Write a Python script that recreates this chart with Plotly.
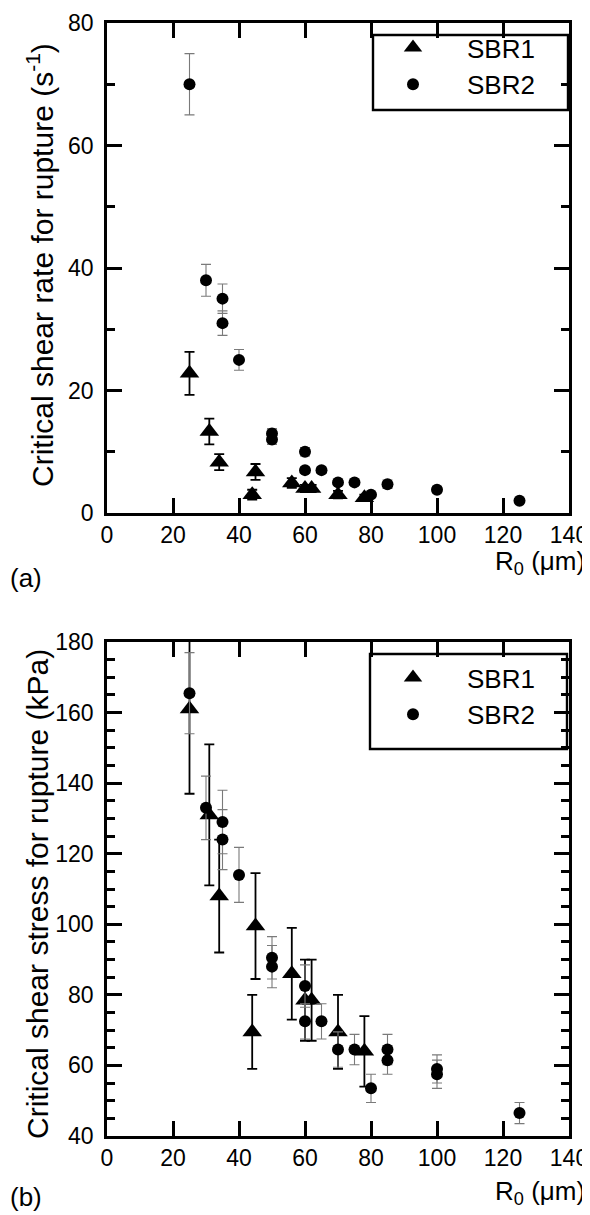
import plotly.graph_objects as go
from plotly.subplots import make_subplots

# ---- data ----
# (a) critical shear rate for rupture (1/s)
r0_sbr1_a = [25, 31, 34, 44, 45, 56, 60, 62, 70, 78]
rate_sbr1 = [22.8, 13.3, 8.3, 3.0, 6.7, 4.9, 4.0, 4.0, 3.0, 2.5]
rate_sbr1_err = [3.5, 2.1, 1.3, 0.8, 1.3, 0.8, 0.6, 0.6, 0.6, 0.5]

r0_sbr2_a = [25, 30, 35, 35, 40, 50, 50, 60, 60, 65, 70, 75, 80, 85, 100, 125]
rate_sbr2 = [70, 38, 35, 31, 25, 13, 12, 10, 7, 7, 5, 5, 3, 4.7, 3.8, 2]
rate_sbr2_err = [5, 2.6, 2.4, 2, 1.7, 0.8, 0.8, 0.7, 0.5, 0.5, 0.4, 0.4, 0.3, 0.7, 0.5, 0.3]

# (b) critical shear stress for rupture (kPa)
r0_sbr1_b = [25, 31, 34, 44, 45, 56, 60, 62, 70, 78]
stress_sbr1 = [161, 131, 108, 69.5, 99.5, 86, 78.5, 78.5, 69.5, 64]
stress_sbr1_err = [24, 20, 16, 10.5, 15, 13, 11.5, 11.5, 10.5, 10]

r0_sbr2_b = [25, 30, 35, 35, 40, 50, 50, 60, 60, 65, 70, 75, 80, 85, 85, 100, 100, 125]
stress_sbr2 = [165.5, 133, 129, 124, 114, 90.5, 88, 82.5, 72.5, 72.5, 64.5, 64.5, 53.5,
               64.5, 61.5, 59, 57.5, 46.5]
stress_sbr2_err = [11.5, 9, 9, 8.5, 7.8, 6, 6, 6, 5, 5, 5, 4.3, 4, 4.3, 4, 4, 4, 3]

x_ticks = [0, 20, 40, 60, 80, 100, 120, 140]

FONT = "Liberation Sans, Arial, Helvetica, sans-serif"
OFF = 8  # page body margin (figure drawn 8px right/down in the window)
W, H = 590, 1215
# plot area in screen pixels: x 107..569 ; top plot 23..513 ; bottom plot 642..1136
ML = 107 - OFF
MR = W - (569 - OFF)
MT = 23 - OFF
MB = H - (1136 - OFF)
PW, PH = W - ML - MR, H - MT - MB


def px(sx):
    return (sx - OFF - ML) / PW


def py(sy):
    return (H - MB - (sy - OFF)) / PH


fig = make_subplots(rows=2, cols=1)

tri = dict(symbol="triangle-up", size=17, color="black")
dot = dict(symbol="circle", size=12, color="black")
err1 = dict(color="black", thickness=1.8, width=5)
err2 = dict(color="#7a7a7a", thickness=1.1, width=5)

fig.add_trace(go.Scatter(x=r0_sbr1_a, y=rate_sbr1, mode="markers", name="SBR1",
                         marker=tri, legend="legend",
                         error_y=dict(type="data", array=rate_sbr1_err, **err1)), row=1, col=1)
fig.add_trace(go.Scatter(x=r0_sbr2_a, y=rate_sbr2, mode="markers", name="SBR2",
                         marker=dot, legend="legend",
                         error_y=dict(type="data", array=rate_sbr2_err, **err2)), row=1, col=1)
fig.add_trace(go.Scatter(x=r0_sbr1_b, y=stress_sbr1, mode="markers", name="SBR1",
                         marker=tri, legend="legend2",
                         error_y=dict(type="data", array=stress_sbr1_err, **err1)), row=2, col=1)
fig.add_trace(go.Scatter(x=r0_sbr2_b, y=stress_sbr2, mode="markers", name="SBR2",
                         marker=dot, legend="legend2",
                         error_y=dict(type="data", array=stress_sbr2_err, **err2)), row=2, col=1)

axis_common = dict(showline=True, linecolor="black", linewidth=2.6, mirror="ticks",
                   ticks="inside", tickwidth=2.6, ticklen=15, tickcolor="black",
                   showgrid=False, zeroline=False, automargin=False,
                   tickfont=dict(family=FONT, size=23, color="black"))

fig.update_xaxes(range=[0, 140], tickvals=x_ticks, ticklabelstandoff=0, **axis_common)
fig.update_xaxes(domain=[0, 1])
fig.update_yaxes(ticklabelstandoff=6, **axis_common)
fig.update_yaxes(row=1, col=1, range=[0, 80], dtick=20, domain=[py(513), 1],
                 minor=dict(dtick=10, ticks="inside", ticklen=8, tickwidth=2.6, tickcolor="black"))
fig.update_yaxes(row=2, col=1, range=[40, 180], dtick=20, domain=[0, py(642)],
                 minor=dict(dtick=5, ticks="inside", ticklen=8, tickwidth=2.6, tickcolor="black"))

legend_style = dict(bgcolor="rgba(0,0,0,0)", borderwidth=0, xanchor="left", yanchor="top",
                    font=dict(family=FONT, size=26, color="black"), itemwidth=98,
                    tracegroupgap=0)

big = dict(family=FONT, size=26, color="black")
lab = dict(family=FONT, size=26, color="black")
title_font = dict(family=FONT, size=30, color="black")

fig.update_layout(
    width=W, height=H,
    margin=dict(l=ML, r=MR, t=MT, b=MB, autoexpand=False),
    paper_bgcolor="white", plot_bgcolor="white",
    showlegend=True,
    legend=dict(x=px(359), y=py(24), **legend_style),
    legend2=dict(x=px(359), y=py(654), **legend_style),
    font=dict(family=FONT, color="black"),
    shapes=[
        dict(type="rect", xref="paper", yref="paper", x0=px(373), x1=px(568),
             y0=py(110), y1=py(35), line=dict(color="black", width=2.4)),
        dict(type="rect", xref="paper", yref="paper", x0=px(370), x1=px(567),
             y0=py(749), y1=py(654), line=dict(color="black", width=2.4)),
    ],
    annotations=[
        dict(text="Critical shear rate for rupture (s<sup>-1</sup>)", xref="paper", yref="paper",
             x=px(40), y=py(265), xanchor="center", yanchor="middle", textangle=-90,
             showarrow=False, font=title_font),
        dict(text="Critical shear stress for rupture (kPa)", xref="paper", yref="paper",
             x=px(37), y=py(894), xanchor="center", yanchor="middle", textangle=-90,
             showarrow=False, font=title_font),
        dict(text="R<sub>0</sub> (μm)", xref="paper", yref="paper", x=px(587), y=py(562),
             xanchor="right", yanchor="middle", showarrow=False, font=big),
        dict(text="R<sub>0</sub> (μm)", xref="paper", yref="paper", x=px(587), y=py(1193),
             xanchor="right", yanchor="middle", showarrow=False, font=big),
        dict(text="(a)", xref="paper", yref="paper", x=px(8), y=py(578),
             xanchor="left", yanchor="middle", showarrow=False, font=lab),
        dict(text="(b)", xref="paper", yref="paper", x=px(8), y=py(1197),
             xanchor="left", yanchor="middle", showarrow=False, font=lab),
    ],
)

fig.write_html("out.html")
